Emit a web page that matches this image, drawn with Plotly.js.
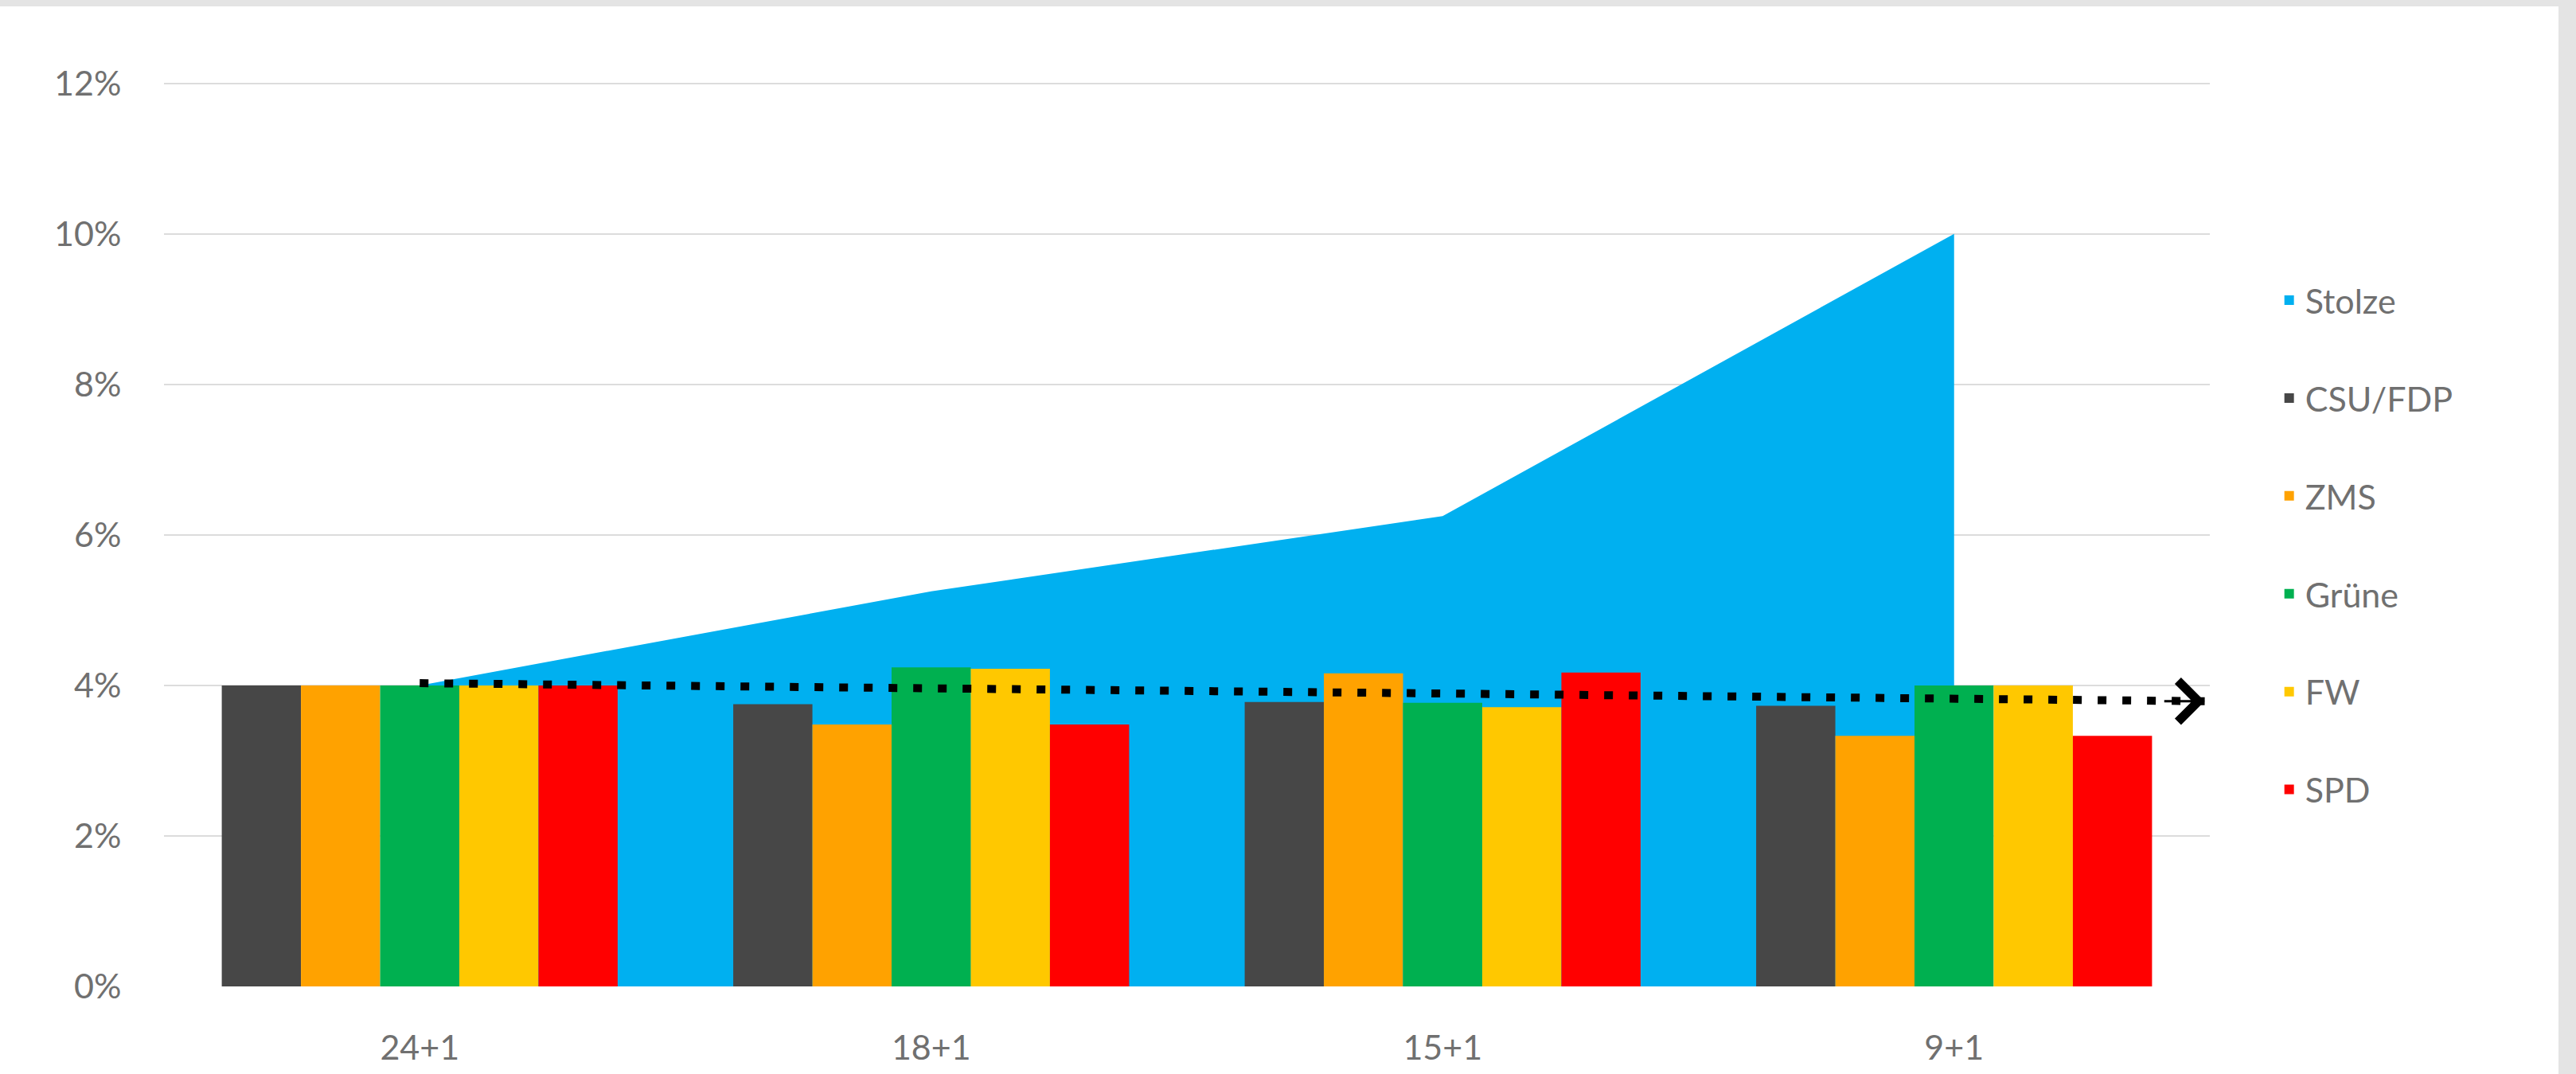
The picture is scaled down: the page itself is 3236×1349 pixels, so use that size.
<!DOCTYPE html>
<html>
<head>
<meta charset="utf-8">
<script src="https://cdn.plot.ly/plotly-3.0.1.min.js"></script>
<style>
html,body{margin:0;padding:0;background:#e4e4e4;overflow:hidden;}
#wrap{position:absolute;left:0;top:0;width:3236px;height:1349px;background:#e4e4e4;}
#chart{position:absolute;left:0;top:8px;width:3214px;height:1341px;background:#fff;}
</style>
</head>
<body>
<div id="wrap"><div id="chart"></div></div>
<script>
// ---- data ----
const categories = ['24+1', '18+1', '15+1', '9+1'];
const stolze  = [4.0, 5.25, 6.25, 10.0];
const csuFdp  = [4.0, 3.75, 3.78, 3.73];
const zms     = [4.0, 3.48, 4.16, 3.33];
const gruene  = [4.0, 4.24, 3.77, 4.0];
const fw      = [4.0, 4.22, 3.71, 4.0];
const spd     = [4.0, 3.48, 4.17, 3.33];
const thresholdX = [0, 3.49];
const thresholdY = [4.03, 3.79];
const yTicks = [0, 2, 4, 6, 8, 10, 12];
const yTickText = ['0%', '2%', '4%', '6%', '8%', '10%', '12%'];

const idx = categories.map((c, i) => i);
const FONT = 'Lato, "Open Sans", sans-serif';
const TXT = '#707070';
const FS = 43;

const barSeries = [
  {name: 'CSU/FDP', y: csuFdp, color: '#474747'},
  {name: 'ZMS',     y: zms,    color: '#FFA200'},
  {name: 'Grüne',   y: gruene, color: '#00B050'},
  {name: 'FW',      y: fw,     color: '#FFC800'},
  {name: 'SPD',     y: spd,    color: '#FF0000'}
];

const traces = [];
traces.push({
  type: 'scatter', x: idx, y: stolze, mode: 'none', fill: 'tozeroy',
  fillcolor: '#00B0F0', name: 'Stolze', showlegend: false, zorder: -1,
  hoverinfo: 'skip'
});
traces.push({
  type: 'scatter', x: [null], y: [null], mode: 'markers', name: 'Stolze',
  legendgroup: 'Stolze',
  marker: {symbol: 'square', size: 12, color: '#00B0F0'}
});
barSeries.forEach(s => {
  traces.push({
    type: 'bar', x: idx, y: s.y, name: s.name, legendgroup: s.name,
    marker: {color: s.color, line: {width: 0}}, zorder: 0
  });
});
traces.push({
  type: 'scatter', x: thresholdX, y: thresholdY, mode: 'lines',
  line: {color: '#000000', width: 10, dash: '11px,20px'},
  showlegend: false, zorder: 1, hoverinfo: 'skip'
});

const layout = {
  width: 3214, height: 1341,
  margin: {l: 206, r: 438, t: 92, b: 110},
  paper_bgcolor: '#ffffff', plot_bgcolor: '#ffffff',
  font: {family: FONT, size: FS, color: TXT},
  barmode: 'group', bargap: 0.226, bargroupgap: 0,
  xaxis: {
    range: [-0.5, 3.5], tickmode: 'array', tickvals: idx, ticktext: categories,
    showgrid: false, zeroline: false, showline: true, linecolor: '#d9d9d9', linewidth: 2,
    ticks: 'outside', ticklen: 38, tickcolor: 'rgba(0,0,0,0)',
    tickfont: {family: FONT, size: FS, color: TXT}, fixedrange: true
  },
  yaxis: {
    range: [0, 12.05], tickmode: 'array', tickvals: yTicks, ticktext: yTickText,
    showgrid: true, gridcolor: '#dcdcdc', gridwidth: 2, zeroline: false, showline: false,
    ticks: 'outside', ticklen: 44, tickcolor: 'rgba(0,0,0,0)',
    tickfont: {family: FONT, size: FS, color: TXT}, fixedrange: true
  },
  legend: {
    x: 1.031, y: 0.787, xanchor: 'left', yanchor: 'top',
    font: {family: FONT, size: FS, color: TXT},
    tracegroupgap: 64, bgcolor: 'rgba(0,0,0,0)'
  },
  annotations: [{
    x: thresholdX[1], y: thresholdY[1], xref: 'x', yref: 'y',
    ax: thresholdX[1] - 0.09, ay: thresholdY[1], axref: 'x', ayref: 'y',
    showarrow: true, arrowhead: 4, arrowsize: 3.3, arrowwidth: 3,
    arrowcolor: '#000000', text: ' ', standoff: 0, startstandoff: 0
  }],
  showlegend: true
};

Plotly.newPlot('chart', traces, layout, {displayModeBar: false, staticPlot: true});
</script>
</body>
</html>
